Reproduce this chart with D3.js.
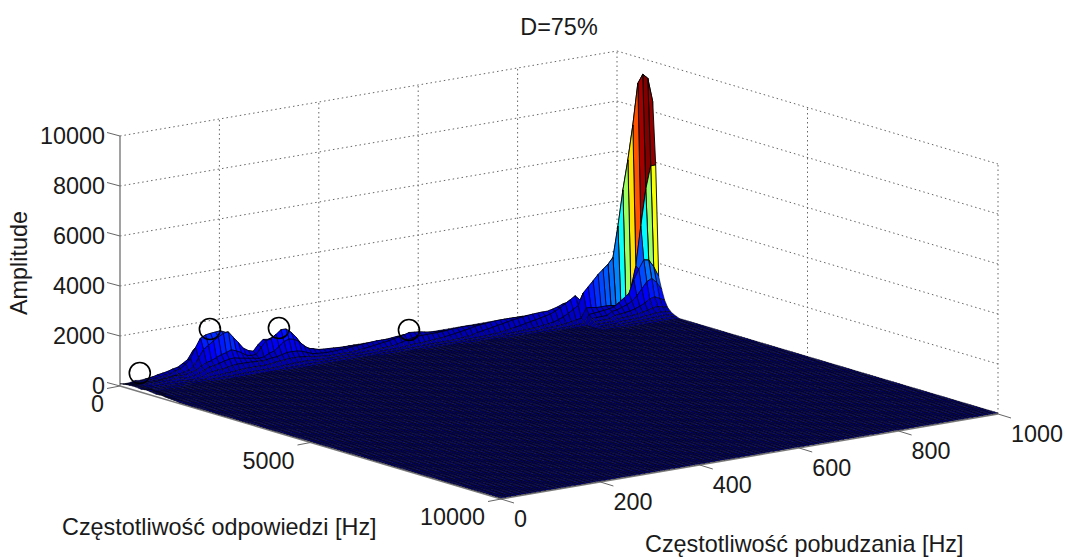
<!DOCTYPE html>
<html><head><meta charset="utf-8">
<script src="https://cdnjs.cloudflare.com/ajax/libs/d3/7.8.5/d3.min.js"></script>
<style>html,body{margin:0;background:#fff}svg{display:block}text{font-family:"Liberation Sans",Arial,sans-serif;font-size:23.4px;fill:#1a1a1a}</style>
</head><body><svg id="c" width="1067" height="560"></svg>
<script>
const titleText = "D=75%";
const zLabel = "Amplitude", rLabel = "Częstotliwość odpowiedzi [Hz]", fLabel = "Częstotliwość pobudzania [Hz]";
const zTicks = [0,2000,4000,6000,8000,10000];
const rTicks = [0,5000,10000];
const fTicks = [0,200,400,600,800,1000];
const responseStepHz = 78.125, responseBins = 128, excitationStepHz = 10, floorLevel = 40;
// markers: excitation Hz, response Hz, amplitude
const markerF = [37,168,297,540], markerR = [37,168,297,540], markerZ = [410,1784,1444,648];
// one row per excitation step: [first response bin, amplitudes from that bin on]; other bins are at floorLevel
const amplitudeRows = [
[0,90,110,130,140,150,150,140,120,140,150,130,120,100,110,120,100,90,80,70,60],
[0,60,80,110,120,130,120,110,100,110,120,100,90,80,70],
[0,70,80,90,100,100,90,80,70,60],
[0,120,100,110,120,110,90,80,70,60],
[0,90,120,110,130,140,120,90,70,60],
[0,110,170,150,130,150,130,100,70,60],
[0,120,200,170,140,170,150,110,80,60],
[0,130,250,200,170,190,160,120,80,60],
[0,140,280,230,190,220,180,120,80,60],
[0,150,315,260,210,250,190,130,80,60],
[0,235,375,330,240,210,140,90,60],
[0,240,413,390,270,230,150,90,60],
[0,280,525,535,320,280,190,110,70],
[0,325,650,715,440,340,240,130,70],
[0,440,950,1130,750,450,340,220,140,80],
[0,490,1155,1480,1050,560,420,270,150,80],
[0,455,1130,1570,1190,610,450,290,160,90],
[0,400,1070,1600,1330,700,500,310,170,90],
[0,350,1000,1620,1450,780,560,340,180,90],
[0,300,945,1635,1565,830,600,380,190,100],
[0,200,830,1540,1590,910,620,400,220,100],
[0,150,570,1200,1340,830,570,400,230,110],
[0,110,400,910,1100,730,540,400,230,110],
[0,90,270,640,840,590,500,390,230,110],
[0,80,200,500,710,545,470,380,230,110],
[0,70,170,430,650,550,430,360,220,110],
[0,70,170,540,880,800,460,380,240,120],
[0,70,160,590,1050,1030,560,420,270,130],
[0,70,140,540,1020,1075,620,430,290,140,80],
[0,70,130,520,1085,1220,770,480,310,150,80],
[0,70,120,500,1125,1375,930,530,330,160,80],
[0,70,110,425,1030,1370,1000,530,330,170,90],
[0,70,90,325,835,1210,955,520,320,170,90],
[0,70,80,230,630,980,830,480,300,170,90],
[2,150,420,700,640,400,270,160,90],
[2,100,275,495,490,320,230,140,80],
[3,210,410,440,290,210,130,80],
[3,155,330,380,270,190,130,80],
[3,130,285,360,260,170,120,80],
[3,120,260,350,260,170,120,80],
[3,100,230,340,270,170,120,80],
[4,208,323,280,170,120,80],
[4,182,307,288,160,120,80],
[4,171,312,312,171,120,80],
[4,159,310,331,197,130,80],
[4,140,298,343,220,140,80],
[4,126,284,360,245,150,80],
[5,274,370,274,150,110,70],
[5,262,385,304,165,110,70],
[5,246,382,332,175,110,70],
[5,228,384,360,184,110,70],
[5,219,400,400,219,120,70],
[5,216,423,451,268,130,70],
[5,204,434,500,321,150,80],
[5,192,434,550,374,170,80],
[6,392,530,392,165,110,70],
[6,347,510,403,180,110,70],
[6,302,470,408,192,110,70],
[6,257,432,405,207,110,70],
[6,224,409,409,224,110,70],
[6,198,387,413,245,110,70],
[6,176,374,431,277,120,70],
[6,158,356,450,306,130,70],
[7,340,460,340,143,100,70],
[7,320,470,371,165,100,70],
[7,302,470,408,192,110,70],
[7,250,456,456,250,110,70],
[7,230,450,480,285,120,70],
[7,204,434,500,321,130,70],
[7,182,411,520,354,140,70],
[8,396,535,396,166,110,70],
[8,371,545,431,190,110,70],
[8,350,544,472,222,110,70],
[8,322,542,509,260,120,70],
[8,293,535,535,293,130,70],
[8,271,531,566,336,140,70],
[8,240,510,588,378,150,70],
[8,214,482,610,415,170,80],
[9,459,620,459,192,120,70],
[9,428,630,498,220,120,70],
[9,403,627,544,256,130,70],
[9,399,672,630,322,140,70],
[9,398,725,725,398,170,80],
[9,409,801,854,507,200,90],
[9,400,850,980,630,240,100],
[9,388,877,1110,755,280,110],
[10,300,900,1220,650,430,300,210,150,100,70],
[10,300,800,1430,640,450,310,220,150,100,70],
[10,300,800,1640,600,470,320,220,150,100,70],
[10,300,850,1860,600,490,320,220,150,100,70],
[11,900,2030,600,520,450,320,220,150,100,70],
[11,980,2200,580,560,480,340,230,150,100,70],
[11,1100,2440,550,700,540,370,240,160,110,70],
[11,1650,3660,500,850,620,400,260,170,110,70],
[11,2300,5070,600,1000,720,450,280,180,120,80],
[11,2800,6240,1120,1500,900,520,320,200,130,80],
[11,3400,7600,2000,1900,1150,620,360,220,140,80],
[11,4200,9230,3560,2240,1400,750,420,250,150,80],
[11,4300,9560,5000,2200,1500,800,450,260,160,90],
[11,4000,9370,5900,1900,1300,700,400,240,150,90],
[11,3600,8400,5900,1480,1000,600,350,220,140,90]
];

const svg = d3.select("#c");
// oblique projection through three linear scales
const rX = d3.scaleLinear().domain([0,10000]).range([0,381]);
const rY = d3.scaleLinear().domain([0,10000]).range([0,113]);
const fX = d3.scaleLinear().domain([0,1000]).range([0,497]);
const fY = d3.scaleLinear().domain([0,1000]).range([0,-85]);
const zY = d3.scaleLinear().domain([0,10000]).range([0,-250]);
const X0 = 120, Y0 = 386;
const P = (r,f,z) => [X0+rX(r)+fX(f), Y0+rY(r)+fY(f)+zY(z)];
const poly = pts => "M"+pts.map(p=>p[0].toFixed(2)+","+p[1].toFixed(2)).join("L");

const zMax = d3.max(amplitudeRows.flatMap(r=>r.slice(1)));
const jet = d3.scaleLinear()
  .domain([0,.125,.375,.625,.875,1].map(t=>t*zMax))
  .range(["rgb(0,0,143)","rgb(0,0,255)","rgb(0,255,255)","rgb(255,255,0)","rgb(255,0,0)","rgb(128,0,0)"])
  .interpolate(d3.interpolateRgb).clamp(true);

const Z = amplitudeRows.map(row=>{
  const a = new Array(responseBins+1).fill(floorLevel);
  row.slice(1).forEach((v,i)=>{a[row[0]+i]=v;});
  return a;
});

// walls
const wall = svg.append("g").attr("fill","none").attr("stroke","#666").attr("stroke-width",1).attr("stroke-dasharray","1.5,3");
const seg = (g,a,b)=>g.append("path").attr("d",poly([a,b]));
zTicks.slice(1).forEach(z=>{
  seg(wall,P(0,0,z),P(0,1000,z));
  seg(wall,P(0,1000,z),P(10000,1000,z));
});
fTicks.slice(1).forEach(f=>seg(wall,P(0,f,0),P(0,f,10000)));
[5000,10000].forEach(r=>seg(wall,P(r,1000,0),P(r,1000,10000)));

// axes
const ax = svg.append("g").attr("fill","none").attr("stroke","#7a7a7a").attr("stroke-width",1.4);
seg(ax,P(0,0,0),P(0,0,10000));
seg(ax,P(0,0,0),P(10000,0,0));
seg(ax,P(10000,0,0),P(10000,1000,0));
const tk = svg.append("g").attr("fill","none").attr("stroke","#666").attr("stroke-width",1);
zTicks.forEach(z=>{const p=P(0,0,z);seg(tk,p,[p[0]-13,p[1]-3.5]);});
rTicks.forEach(r=>{const p=P(r,0,0);seg(tk,p,[p[0]-13,p[1]+2.5]);});
fTicks.forEach(f=>{const p=P(10000,f,0);seg(tk,p,[p[0]+13,p[1]+4]);});

// surface: far rows first
const cells = [];
for(let k=Z.length-2;k>=0;k--) for(let j=0;j<responseBins;j++){
  const f0=k*excitationStepHz,f1=f0+excitationStepHz,r0=j*responseStepHz,r1=r0+responseStepHz;
  cells.push({c:Z[k][j],d:poly([P(r0,f0,Z[k][j]),P(r0,f1,Z[k+1][j]),P(r1,f1,Z[k+1][j+1]),P(r1,f0,Z[k][j+1])])+"Z"});
}
svg.append("g").attr("stroke","#000").attr("stroke-linejoin","round")
  .selectAll("path").data(cells).join("path").attr("d",d=>d.d).attr("fill",d=>jet(d.c))
  .attr("stroke-width",d=>d.c>2000?0.9:d.c>300?0.6:0.5);

// markers
svg.append("g").attr("fill","none").attr("stroke","#000").attr("stroke-width",1.6)
  .selectAll("circle").data(markerF).join("circle")
  .attr("cx",(f,i)=>P(markerR[i],f,markerZ[i])[0])
  .attr("cy",(f,i)=>P(markerR[i],f,markerZ[i])[1]).attr("r",10.5);

// text
const T=(x,y,s,a="start")=>svg.append("text").attr("x",x).attr("y",y).attr("text-anchor",a).text(s);
zTicks.forEach(z=>{const p=P(0,0,z);T(p[0]-15,p[1]+8,z,"end");});
rTicks.forEach(r=>{const p=P(r,0,0);T(p[0]-16,p[1]+26,r,"end");});
fTicks.forEach(f=>{const p=P(10000,f,0);T(p[0]+13,p[1]+28,f);});
T(559,35,titleText,"middle");
T(62,535,rLabel);
T(645,552,fLabel);
svg.append("text").attr("transform","translate(27,263) rotate(-90)").attr("text-anchor","middle").text(zLabel);
</script></body></html>
